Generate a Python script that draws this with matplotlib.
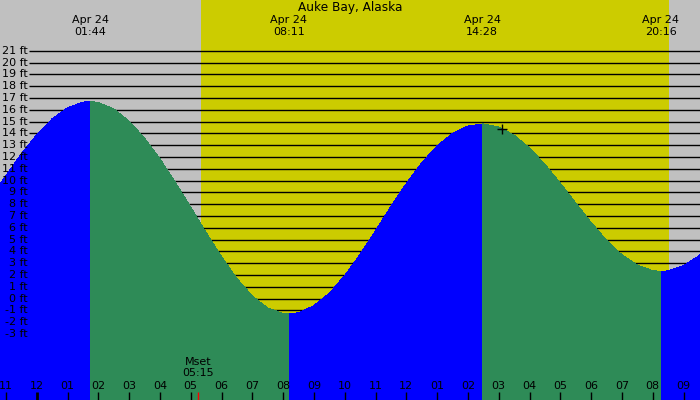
import matplotlib
matplotlib.use("Agg")
import matplotlib.pyplot as plt
import matplotlib.transforms as mtransforms

# ---------------- data (hours from midnight Apr 24, feet) ----------------
title = "Auke Bay, Alaska"
sample_times = [-1.5, -1.0, -0.5, 0.0, 0.5, 1.0, 1.5, 1.733,
                2.0, 2.5, 3.0, 3.5, 4.0, 4.5, 5.0, 5.5, 6.0, 6.5, 7.0, 7.5, 8.0, 8.183,
                8.5, 9.0, 9.5, 10.0, 10.5, 11.0, 11.5, 12.0, 12.5, 13.0, 13.5, 14.0, 14.467,
                14.5, 15.0, 15.5, 16.0, 16.5, 17.0, 17.5, 18.0, 18.5, 19.0, 19.5, 20.0, 20.267,
                20.5, 21.0, 21.5, 22.0]
sample_heights = [8.52, 10.42, 12.26, 13.89, 15.23, 16.17, 16.65, 16.7,
                  16.62, 16.08, 15.04, 13.60, 11.85, 9.85, 7.75, 5.60, 3.55, 1.70, 0.22, -0.80, -1.26, -1.3,
                  -1.20, -0.60, 0.45, 1.95, 3.75, 5.75, 7.80, 9.75, 11.50, 12.95, 14.00, 14.62, 14.8,
                  14.80, 14.54, 13.85, 12.77, 11.38, 9.78, 8.10, 6.45, 4.95, 3.71, 2.84, 2.37, 2.3,
                  2.35, 2.78, 3.63, 4.85]
extreme_times = [1.733, 8.183, 14.467, 20.267]
extreme_labels = ["01:44", "08:11", "14:28", "20:16"]
extreme_date = "Apr 24"
sunrise, sunset = 5.334, 20.53
moonset_time, moonset_label = 5.25, "05:15"
marker_time, marker_height = 15.12, 14.4
ft_levels = list(range(-3, 22))
hour_ticks = list(range(-1, 22))
hour_labels = ["11", "12", "01", "02", "03", "04", "05", "06", "07", "08", "09", "10",
               "11", "12", "01", "02", "03", "04", "05", "06", "07", "08", "09"]

# ---------------- style ----------------
GRAY = "#c0c0c0"
YELLOW = "#cccc00"
BLUE = "#0000ff"
GREEN = "#2e8b57"
FS = 8

fig = plt.figure(figsize=(7, 4), dpi=100)
fig.patch.set_facecolor(GRAY)
ax = fig.add_axes([0, 0, 1, 1])
ax.set_axis_off()
ax.set_xlim(-36.7 / 30.8, (700 - 36.7) / 30.8)
ax.set_ylim((298.6 - 400) / 11.8, 298.6 / 11.8)

# daylight
ax.axvspan(sunrise, sunset, color=YELLOW, zorder=0, lw=0)

# horizontal feet lines
bt = mtransforms.blended_transform_factory(ax.transAxes, ax.transData)
ax.hlines(ft_levels, 29 / 700, 1, transform=bt, colors="black", lw=1.0, zorder=1)

# tide fill: whole curve blue (rising), falling parts green on top
ax.fill_between(sample_times, sample_heights, -20, color=BLUE, lw=0, zorder=2,
                antialiased=False)
bounds = [sample_times[0]] + extreme_times + [sample_times[-1]]
for a, b in zip(bounds[:-1], bounds[1:]):
    idx = [i for i, t in enumerate(sample_times) if a <= t <= b]
    ts = [sample_times[i] for i in idx]
    hs = [sample_heights[i] for i in idx]
    if hs[-1] < hs[0]:
        ax.fill_between(ts, hs, -20, color=GREEN, lw=0, zorder=3, antialiased=False)

# feet labels
for lv in ft_levels:
    ax.text(27.5 / 700, lv, f"{lv} ft", transform=bt, ha="right", va="center",
            fontsize=FS, zorder=5)

# bottom hour ticks and labels
bx = mtransforms.blended_transform_factory(ax.transData, ax.transAxes)
for h, lab in zip(hour_ticks, hour_labels):
    ax.plot([h, h], [0, 0.02], transform=bx, color="black",
            lw=2.0 if h % 24 == 0 else 1.0, zorder=5, solid_capstyle="butt")
    ax.text(h, 14.3 / 400, lab, transform=bx, ha="center", va="center", fontsize=FS, zorder=5)

# moonset
ax.plot([moonset_time, moonset_time], [0, 0.02], transform=bx, color="red", lw=1.0, zorder=6,
        solid_capstyle="butt")
ax.text(moonset_time, 1 - 361.7 / 400, "Mset", transform=bx, ha="center", va="center", fontsize=FS, zorder=6)
ax.text(moonset_time, 1 - 373.3 / 400, moonset_label, transform=bx, ha="center", va="center", fontsize=FS, zorder=6)

# extremes labels at top
for t, lab in zip(extreme_times, extreme_labels):
    ax.text(t, 1 - 20 / 400, extreme_date, transform=bx, ha="center", va="center", fontsize=FS, zorder=6)
    ax.text(t, 1 - 31.7 / 400, lab, transform=bx, ha="center", va="center", fontsize=FS, zorder=6)

ax.text(0.5, 1 - 7.3 / 400, title, transform=ax.transAxes, ha="center", va="center", fontsize=8.7, zorder=6)

# current-time marker
ax.plot([marker_time], [marker_height], marker="+", color="black", ms=7, mew=1.0, zorder=7)

fig.savefig("out.png", dpi=100, facecolor=GRAY)
